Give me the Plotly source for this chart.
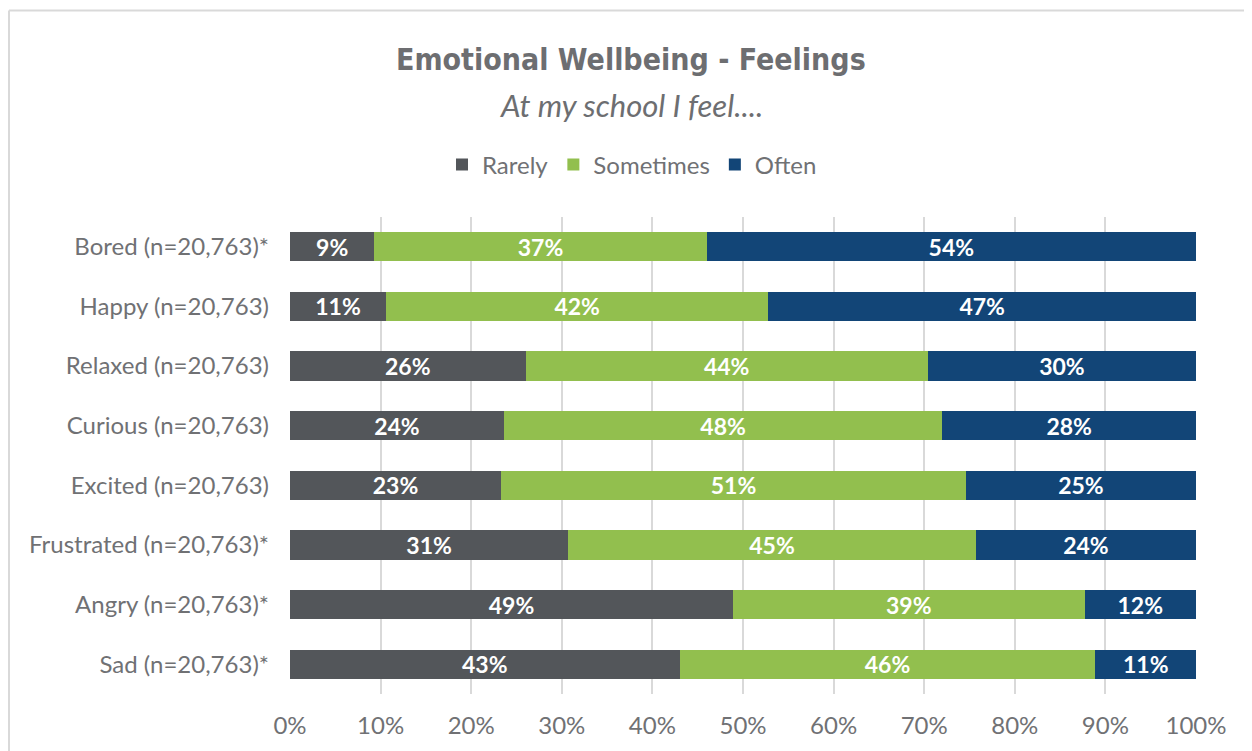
import plotly.graph_objects as go

categories = ["Bored (n=20,763)*", "Happy (n=20,763)", "Relaxed (n=20,763)",
              "Curious (n=20,763)", "Excited (n=20,763)", "Frustrated (n=20,763)*",
              "Angry (n=20,763)*", "Sad (n=20,763)*"]
rarely = [9.3, 10.6, 26.0, 23.6, 23.3, 30.7, 48.9, 43.0]
sometimes = [36.7, 42.2, 44.4, 48.4, 51.3, 45.0, 38.8, 45.9]
often = [54.0, 47.2, 29.6, 28.0, 25.4, 24.3, 12.3, 11.1]
series_names = ["Rarely", "Sometimes", "Often"]
colors = ["#53565a", "#92bf4e", "#124577"]
tick_vals = [0, 10, 20, 30, 40, 50, 60, 70, 80, 90, 100]
tick_text = [f"{v}%" for v in tick_vals]

# page has an 8px body margin; work in screen coordinates and shift
OFF = 8
W, H = 1252 - OFF, 751 - OFF
L = 290 - OFF
T = 217 - OFF
R = W - (1196 - OFF)
B = H - (694 - OFF)
pw, ph = W - L - R, H - T - B

def px(x):
    return (x - OFF - L) / pw

def py(y):
    return 1 + (T - (y - OFF)) / ph

fig = go.Figure()
for name, vals, col in zip(series_names, [rarely, sometimes, often], colors):
    fig.add_trace(go.Bar(
        y=categories, x=vals, name=name, orientation="h",
        marker=dict(color=col, line=dict(width=0)),
        texttemplate="%{x:.0f}%", textposition="inside", insidetextanchor="middle",
        constraintext="none",
        textfont=dict(family="Lato", size=23, color="white", weight="bold"),
        hoverinfo="skip", width=0.49,
    ))

fig.update_layout(
    width=W, height=H, barmode="stack",
    margin=dict(l=L, r=R, t=T, b=B, autoexpand=False),
    paper_bgcolor="white", plot_bgcolor="white",
    font=dict(family="Lato", color="#707174"),
    showlegend=True,
    legend=dict(orientation="h", x=px(632), xanchor="center", y=py(165), yanchor="middle",
                font=dict(family="Lato", size=24, color="#707174"),
                traceorder="normal", itemwidth=30, itemsizing="constant"),
    xaxis=dict(range=[0, 100], tickvals=tick_vals, ticktext=tick_text,
               showgrid=True, gridcolor="#d9d9d9", gridwidth=2,
               zeroline=False, showline=False,
               tickfont=dict(family="Lato", size=24, color="#707174"),
               ticks="outside", ticklen=0, ticklabelstandoff=10, fixedrange=True),
    yaxis=dict(categoryorder="array", categoryarray=categories, autorange="reversed",
               showgrid=False, zeroline=False, showline=False,
               tickfont=dict(family="Lato", size=24, color="#707174"),
               ticklabelstandoff=20, fixedrange=True),
    bargap=0.51,
    annotations=[
        dict(text="<b>Emotional Wellbeing - Feelings</b>", x=px(631), y=py(60),
             xref="paper", yref="paper", xanchor="center", yanchor="middle", showarrow=False,
             font=dict(family="DejaVu Sans Condensed", size=30, color="#6d6e71")),
        dict(text="<i>At my school I feel....</i>", x=px(631), y=py(105),
             xref="paper", yref="paper", xanchor="center", yanchor="middle", showarrow=False,
             font=dict(family="Lato", size=31, color="#6d6e71")),
    ],
    shapes=[
        dict(type="line", xref="paper", yref="paper", x0=px(9), x1=px(1270), y0=py(10.5), y1=py(10.5),
             line=dict(color="#d9d9d9", width=2)),
        dict(type="line", xref="paper", yref="paper", x0=px(9), x1=px(9), y0=py(10.5), y1=py(780),
             line=dict(color="#d9d9d9", width=2)),
    ],
)

fig.write_html("out.html")
